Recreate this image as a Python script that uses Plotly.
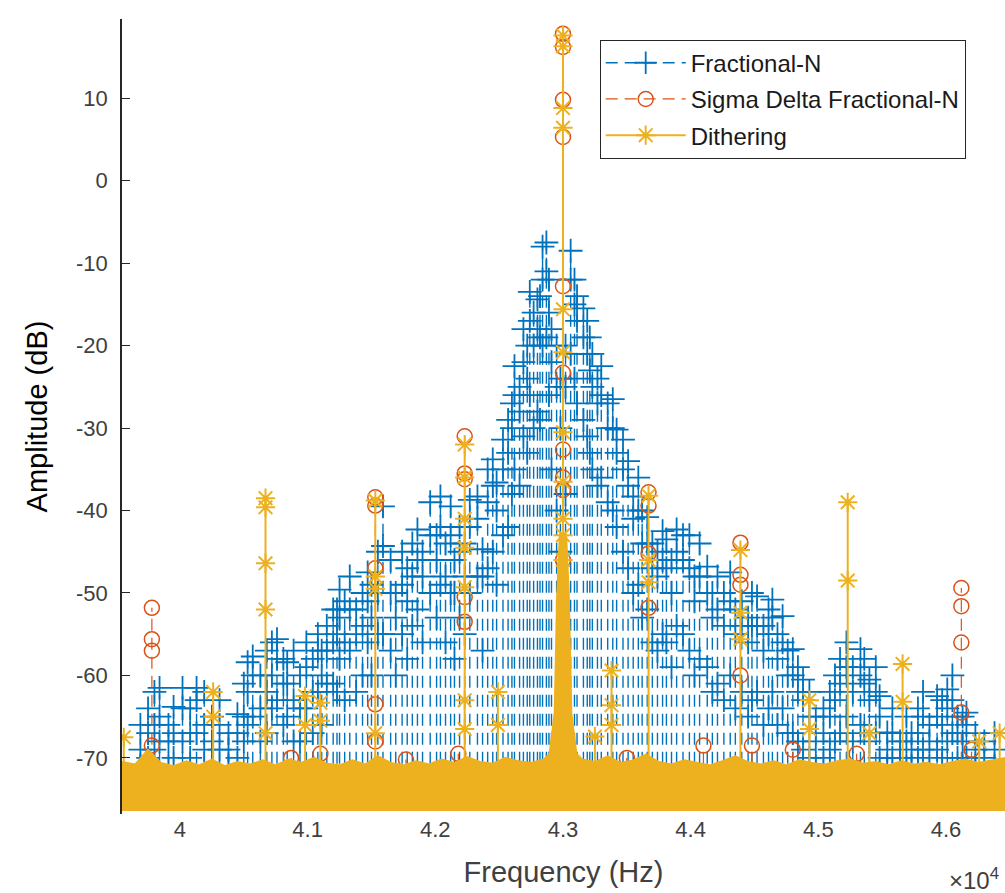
import plotly.graph_objects as go

# ---------------------------------------------------------------------------
# Spectrum data (frequency in Hz, amplitude in dB)
# ---------------------------------------------------------------------------

# Fractional-N spurs: frequency and three sample levels along each spur line
frac_freq = [
    39690, 39750, 39800, 39840, 39910, 39950, 40020, 40080, 40130, 40190,
    40250, 40310, 40380, 40450, 40500, 40530, 40570, 40630, 40680, 40720,
    40760, 40810, 40840, 40890, 40940, 40990, 41040, 41080, 41110, 41150,
    41200, 41230, 41250, 41290, 41330, 41380, 41430, 41470, 41500, 41550,
    41590, 41650, 41690, 41740, 41780, 41820, 41860, 41900, 41960, 42010,
    42040, 42080, 42120, 42150, 42190, 42230, 42270, 42330, 42370, 42410,
    42450, 42480, 42530, 42570, 42600, 42620, 42660, 42690, 42720, 42740,
    42770, 42800, 42820, 42840, 42870, 42890, 42910, 42950, 42980, 43020,
    43060, 43090, 43110, 43160, 43190, 43210, 43230, 43270, 43300, 43350,
    43390, 43420, 43470, 43510, 43550, 43590, 43620, 43660, 43700, 43740,
    43780, 43810, 43850, 43890, 43940, 43990, 44030, 44070, 44130, 44170,
    44210, 44260, 44310, 44350, 44400, 44450, 44480, 44520, 44570, 44610,
    44640, 44680, 44720, 44760, 44800, 44840, 44880, 44930, 44980, 45040,
    45090, 45130, 45170, 45220, 45270, 45330, 45360, 45400, 45450, 45480,
    45540, 45580, 45640, 45690, 45730, 45780, 45820, 45870, 45930, 45970,
    46010, 46050, 46090, 46130, 46160, 46230, 46300, 46380,
]
frac_peak = [
    -66, -64, -62, -61.5, -66, -63.8, -61.5, -64, -61.5, -62,
    -65, -63, -67, -64.7, -61, -58.4, -57.7, -60, -57, -56,
    -55.6, -58, -58.4, -57, -60, -56, -58, -55, -57, -54,
    -52, -52, -49.6, -51, -48, -52, -50, -47.5, -49, -45,
    -39.5, -46, -50, -45, -47, -44, -42.3, -45, -39, -43,
    -38.3, -44, -39.5, -46, -42, -44, -38.7, -38.3, -44.7, -35,
    -33.8, -36.6, -31.4, -29, -27, -22.5, -25, -18, -20, -13.5,
    -16, -14.4, -14, -8, -7.5, -12, -18, -20, -24, -20,
    -8.5, -12, -14, -15.5, -17, -19, -21, -24, -22.5, -27,
    -26.5, -30.2, -31.4, -34, -38.3, -36, -40, -40.8, -44, -45,
    -42.5, -43.5, -46, -42.3, -43, -43, -48, -44, -46.8, -50,
    -48, -50, -47.5, -52, -51, -53, -50, -50.4, -54, -52,
    -50.8, -55, -52.8, -57, -56.8, -59, -60.5, -62, -65, -64,
    -62, -60, -58, -56, -59, -56.8, -58, -60.5, -59, -62.5,
    -66.9, -64, -68, -65, -67, -64, -62, -66, -62.5, -63,
    -61.7, -60, -65, -65, -64.5, -67, -68, -67,
]
frac_mid = [
    -69, -67, -66, -65, -68, -67, -64, -67, -63, -66,
    -68, -66, -69, -67, -65, -62, -60, -64, -62, -60,
    -58, -61, -61, -63, -64, -59, -62, -57, -60, -57,
    -56, -55, -53, -56, -52, -55, -54, -51, -53, -50,
    -44.3, -50, -53, -49, -51, -48, -46, -48, -43, -46,
    -42, -48, -43, -50, -45, -48, -42, -41, -48, -39,
    -37, -40, -35, -33, -30, -26, -28, -22, -24, -17,
    -20, -18, -19, -12, -11, -16, -22, -25, -30, -25,
    -12, -15, -17, -19, -21, -23, -25, -27, -26, -30,
    -30, -33, -35, -37, -41, -40, -44, -44, -47, -48,
    -46, -47, -50, -45, -46, -47, -51, -48, -50, -53,
    -52, -54, -51, -55, -54, -56, -54, -54, -57, -55,
    -53, -58, -56, -60, -60, -62, -63, -65, -68, -67,
    -65, -63, -61, -59, -62, -60, -61, -63, -62, -65,
    -69, -67, -70, -68, -69, -67, -65, -68, -65, -66,
    -64, -63, -67, -68, -66, -69, -70, -69,
]
frac_low = [
    -71, -70, -69, -68, -71, -70, -68, -70, -67, -69,
    -71, -69, -71, -70, -68, -66, -65, -68, -67, -64,
    -63, -66, -65, -68, -68, -64, -67, -62, -66, -61,
    -61, -62, -58, -63, -57, -62, -60, -56, -60, -55,
    -55, -57, -60, -55, -58, -54, -52, -56, -50, -53,
    -49, -56, -50, -58, -53, -55, -50, -48, -57, -47,
    -45, -49, -43, -42, -38, -35, -37, -31, -33, -26,
    -30, -28, -29, -20, -19, -26, -35, -40, -45, -38,
    -21, -24, -27, -29, -31, -33, -35, -37, -36, -39,
    -40, -42, -45, -47, -50, -49, -53, -52, -56, -57,
    -55, -56, -59, -54, -55, -57, -60, -58, -59, -62,
    -61, -63, -60, -64, -62, -65, -63, -62, -66, -64,
    -62, -66, -64, -67, -67, -68, -69, -70, -71, -70,
    -69, -68, -67, -65, -68, -66, -67, -68, -67, -70,
    -71, -70, -72, -71, -71, -70, -69, -71, -69, -70,
    -68, -67, -70, -71, -70, -71, -72, -71,
]

# Sigma Delta Fractional-N: one entry per sample, repeated frequency = same spur
sd_freq = [
    39780, 39780, 39780, 39780,
    40870, 41100,
    41530, 41530, 41530, 41530, 41530,
    41770, 42180,
    42230, 42230, 42230, 42230, 42230,
    43000, 43000, 43000, 43000, 43000, 43000, 43000, 43000, 43000, 43000,
    43500,
    43670, 43670, 43670, 43670,
    44100,
    44390, 44390, 44390, 44390,
    44480, 44800, 45300,
    46120, 46120, 46120, 46120,
    46200,
]
sd_level = [
    -51.8, -55.6, -57.0, -68.5,
    -70.0, -69.5,
    -38.4, -39.4, -47.0, -63.5, -68.0,
    -70.2, -69.5,
    -31.0, -35.5, -36.2, -50.5, -53.5,
    17.8, 16.2, 9.8, 5.3, -12.8, -23.3, -32.6, -36.0, -37.5, -46.0,
    -70.0,
    -37.8, -39.4, -45.2, -51.8,
    -68.5,
    -43.9, -47.8, -49.0, -60.0,
    -68.5, -69.0, -69.5,
    -49.4, -51.6, -56.0, -64.5,
    -69.0,
]

# Dithering
dither_freq = [
    39560,
    40260, 40260,
    40670, 40670, 40670, 40670, 40670,
    40980, 40980,
    41100, 41100,
    41530, 41530, 41530, 41530,
    42230, 42230, 42230, 42230, 42230, 42230, 42230,
    42490, 42490,
    43000, 43000, 43000, 43000, 43000, 43000, 43000, 43000, 43000, 43000, 43000,
    43250,
    43380, 43380, 43380,
    43670, 43670, 43670,
    44390, 44390, 44390,
    44930, 44930,
    45230, 45230,
    45400,
    45660, 45660,
    46260, 46420,
]
dither_level = [
    -67.5,
    -62.0, -65.0,
    -38.5, -39.6, -46.4, -52.0, -67.0,
    -62.5, -66.0,
    -63.3, -65.5,
    -38.8, -48.0, -49.5, -67.0,
    -32.0, -36.0, -41.0, -44.5, -49.3, -63.0, -66.5,
    -62.0, -66.0,
    17.6, 16.3, 8.8, 6.4, -15.6, -20.8, -30.5, -36.5, -41.0, -43.0, -46.0,
    -67.4,
    -59.4, -63.6, -66.0,
    -38.2, -46.0, -48.7,
    -44.8, -52.4, -55.6,
    -63.0, -66.5,
    -39.0, -48.5,
    -67.0,
    -58.6, -63.2,
    -68.0, -67.0,
]

# Dense noise floor (upper edge) shared by all three spectra
floor_freq = [
    39546, 39650, 39750, 39850, 39950, 40050, 40150, 40250, 40350, 40450,
    40550, 40650, 40750, 40850, 40950, 41050, 41150, 41250, 41350, 41450,
    41550, 41650, 41750, 41850, 41950, 42050, 42150, 42250, 42350, 42450,
    42550, 42650, 42750, 42850, 42895, 42935, 42955, 42975, 43025, 43045,
    43065, 43105, 43150, 43250, 43350, 43450, 43550, 43650, 43750, 43850,
    43950, 44050, 44150, 44250, 44350, 44450, 44550, 44650, 44750, 44850,
    44950, 45050, 45150, 45250, 45350, 45450, 45550, 45650, 45750, 45850,
    45950, 46050, 46150, 46250, 46350, 46462,
]
floor_top = [
    -70.5, -70.8, -69.0, -70.6, -71.0, -70.4, -70.9, -70.2, -71.0, -70.5,
    -70.8, -70.3, -70.9, -70.2, -70.6, -70.0, -70.7, -70.9, -70.3, -70.8,
    -69.8, -70.6, -70.9, -70.4, -70.8, -70.2, -70.6, -69.9, -70.5, -70.7,
    -70.0, -70.4, -70.6, -70.2, -69.5, -64.5, -50.0, -43.0, -43.0, -50.0,
    -64.5, -69.5, -70.2, -70.5, -69.8, -70.6, -70.3, -69.6, -70.5, -70.8,
    -70.3, -70.6, -70.9, -70.4, -69.8, -70.5, -70.8, -70.4, -70.9, -70.3,
    -70.6, -70.8, -70.4, -70.2, -70.7, -70.5, -70.9, -70.4, -70.8, -70.6,
    -70.9, -70.5, -70.2, -70.6, -70.3, -70.0,
]
FLOOR_BOTTOM = -76.3   # lowest noise samples
SPUR_BASE = -73.0      # spur lines start inside the noise floor

x_tick_vals = [40000, 41000, 42000, 43000, 44000, 45000, 46000]
x_tick_text = ["4", "4.1", "4.2", "4.3", "4.4", "4.5", "4.6"]
y_tick_vals = [10, 0, -10, -20, -30, -40, -50, -60, -70]
y_tick_text = ["10", "0", "-10", "-20", "-30", "-40", "-50", "-60", "-70"]

BLUE = "#0072BD"
RED = "#D95319"
YELLOW = "#EDB120"
AXIS = "#262626"
FONT = "Liberation Sans, Arial, sans-serif"


def spur_lines(freqs, levels, base):
    """Vertical polylines: one per run of equal frequencies, rising from base."""
    xs, ys = [], []
    i = 0
    while i < len(freqs):
        f = freqs[i]
        group = []
        while i < len(freqs) and freqs[i] == f:
            group.append(levels[i])
            i += 1
        xs += [f] * (len(group) + 1) + [None]
        ys += [base] + sorted(group) + [None]
    return xs, ys


frac_x, frac_y = [], []
for f, p, m, lo in zip(frac_freq, frac_peak, frac_mid, frac_low):
    frac_x += [f, f, f, f, None]
    frac_y += [SPUR_BASE, lo, m, p, None]

sd_x, sd_y = spur_lines(sd_freq, sd_level, SPUR_BASE)
di_x, di_y = spur_lines(dither_freq, dither_level, SPUR_BASE)

fig = go.Figure()

fig.add_trace(go.Scatter(
    x=frac_x, y=frac_y, mode="lines+markers", name="Fractional-N",
    legendgroup="a",
    line=dict(color=BLUE, width=1.4, dash="12px,7px"),
    marker=dict(symbol="cross-thin", size=17, line=dict(color=BLUE, width=1.8)),
))
fig.add_trace(go.Scatter(
    x=sd_x, y=sd_y, mode="lines+markers", name="Sigma Delta Fractional-N",
    legendgroup="b",
    line=dict(color=RED, width=1.2, dash="12px,7px"),
    marker=dict(symbol="circle-open", size=15, line=dict(color=RED, width=1.5)),
))
fig.add_trace(go.Scatter(
    x=di_x, y=di_y, mode="lines+markers", name="Dithering",
    legendgroup="c",
    line=dict(color=YELLOW, width=2),
    marker=dict(symbol="asterisk-open", size=16, line=dict(color=YELLOW, width=2)),
))

# noise floor band
fig.add_trace(go.Scatter(
    x=floor_freq + floor_freq[::-1],
    y=floor_top + [FLOOR_BOTTOM] * len(floor_freq),
    mode="lines", fill="toself", fillcolor=YELLOW,
    line=dict(color=YELLOW, width=2),
    showlegend=False, hoverinfo="skip",
))

fig.update_layout(
    width=1005, height=893,
    margin=dict(l=122, r=0, t=19, b=79),
    paper_bgcolor="white", plot_bgcolor="white",
    font=dict(family=FONT, color=AXIS),
    legend=dict(
        x=0.541, y=0.974, xanchor="left", yanchor="top",
        bordercolor=AXIS, borderwidth=1, bgcolor="white",
        font=dict(family=FONT, size=24, color="#1a1a1a"),
        itemwidth=80, tracegroupgap=2,
    ),
    annotations=[dict(
        text="×10<sup>4</sup>", xref="paper", yref="paper",
        x=0.996, y=-0.082, xanchor="right", yanchor="middle",
        showarrow=False, font=dict(family=FONT, size=24, color="#404040"),
    )],
)

fig.update_xaxes(
    range=[39546, 46462], tickvals=x_tick_vals, ticktext=x_tick_text,
    showline=False, ticks="", showgrid=False, zeroline=False,
    tickfont=dict(family=FONT, size=22, color="#404040"),
    title=dict(text="Frequency (Hz)", standoff=20,
               font=dict(family=FONT, size=29, color="#404040")),
    automargin=False,
)
fig.update_yaxes(
    range=[-76.8, 19.6], tickvals=y_tick_vals, ticktext=y_tick_text,
    showline=True, linecolor=AXIS, linewidth=1.5,
    ticks="inside", ticklen=8, tickcolor=AXIS, tickwidth=1,
    showgrid=False, zeroline=False,
    tickfont=dict(family=FONT, size=22, color="#404040"),
    ticklabelstandoff=8,
    title=dict(text="Amplitude (dB)", standoff=20,
               font=dict(family=FONT, size=29, color="black")),
    automargin=False,
)

fig.write_html("out.html")
